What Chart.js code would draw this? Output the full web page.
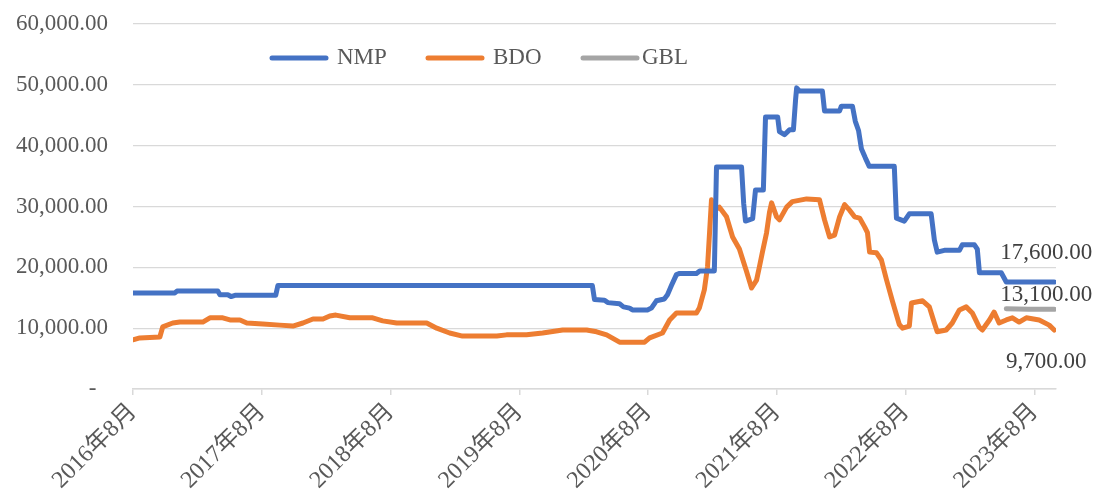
<!DOCTYPE html>
<html>
<head>
<meta charset="utf-8">
<script src="https://cdn.jsdelivr.net/npm/chart.js@4/dist/chart.umd.min.js"></script>
<style>
  html, body { margin: 0; padding: 0; background: #fff; }
  #wrap { width: 1098px; height: 498px; }
</style>
</head>
<body>
<div id="wrap"><canvas id="main-chart" width="1098" height="498"></canvas></div>
<script>
// series names and tick labels
const seriesNames = ['NMP', 'BDO', 'GBL'];
const xTickLabels = ['2016年8月', '2017年8月', '2018年8月', '2019年8月', '2020年8月', '2021年8月', '2022年8月', '2023年8月'];
const yTicks = [0, 10000, 20000, 30000, 40000, 50000, 60000];

// NMP
const nmpDates = ['2016-08-01', '2016-11-28', '2016-12-04', '2017-03-28', '2017-04-04', '2017-04-26', '2017-05-05', '2017-05-16',
  '2017-09-10', '2017-09-16', '2020-02-25', '2020-03-01', '2020-03-29', '2020-04-08', '2020-05-11', '2020-05-22', '2020-06-09',
  '2020-06-17', '2020-07-29', '2020-08-10', '2020-08-24', '2020-09-16', '2020-09-25', '2020-10-06', '2020-10-20', '2020-10-29',
  '2020-12-16', '2020-12-25', '2021-02-06', '2021-02-12', '2021-04-22', '2021-04-28', '2021-05-03', '2021-05-23', '2021-06-01',
  '2021-06-23', '2021-06-29', '2021-08-03', '2021-08-08', '2021-08-22', '2021-09-06', '2021-09-17', '2021-09-23', '2021-09-26',
  '2021-10-04', '2021-12-08', '2021-12-14', '2022-01-26', '2022-02-01', '2022-03-02', '2022-03-10', '2022-03-19', '2022-03-27',
  '2022-04-08', '2022-04-19', '2022-06-29', '2022-07-05', '2022-07-27', '2022-08-11', '2022-10-12', '2022-10-21', '2022-10-29',
  '2022-11-19', '2023-01-01', '2023-01-09', '2023-02-13', '2023-02-21', '2023-02-27', '2023-04-28', '2023-05-12', '2023-09-26'];
const nmpValues = [15800, 15800, 16100, 16100, 15500, 15500, 15200, 15400,
  15400, 17000, 17000, 14700, 14600, 14200, 14000, 13500, 13300,
  13000, 13000, 13300, 14500, 14800, 15500, 17000, 18800, 19000,
  19000, 19400, 19400, 36500, 36500, 30500, 27600, 28000, 32700,
  32700, 44700, 44700, 42300, 41800, 42600, 42600, 47500, 49500,
  49000, 49000, 45700, 45700, 46500, 46500, 44000, 42500, 39500,
  38000, 36600, 36600, 28100, 27600, 28800, 28800, 24500, 22500,
  22800, 22800, 23700, 23700, 23000, 19100, 19100, 17600, 17600];

// BDO
const bdoDates = ['2016-08-01', '2016-08-20', '2016-10-16', '2016-10-24', '2016-11-22', '2016-12-12', '2017-02-16', '2017-03-06',
  '2017-04-12', '2017-05-02', '2017-05-30', '2017-06-19', '2017-08-04', '2017-09-21', '2017-10-28', '2017-11-26', '2017-12-24',
  '2018-01-22', '2018-02-11', '2018-02-28', '2018-04-07', '2018-06-11', '2018-07-09', '2018-08-18', '2018-11-12', '2018-12-10',
  '2019-01-16', '2019-02-22', '2019-05-28', '2019-06-25', '2019-08-21', '2019-10-06', '2019-12-02', '2020-02-09', '2020-03-07',
  '2020-04-05', '2020-05-11', '2020-07-21', '2020-08-05', '2020-09-11', '2020-10-01', '2020-10-20', '2020-12-16', '2020-12-24',
  '2021-01-08', '2021-01-17', '2021-01-28', '2021-02-06', '2021-02-20', '2021-03-10', '2021-03-27', '2021-04-16', '2021-05-06',
  '2021-05-20', '2021-06-04', '2021-06-12', '2021-06-20', '2021-07-02', '2021-07-10', '2021-07-16', '2021-07-30', '2021-08-08',
  '2021-08-28', '2021-09-14', '2021-10-24', '2021-11-30', '2021-12-14', '2021-12-28', '2022-01-12', '2022-01-26', '2022-02-10',
  '2022-02-24', '2022-03-08', '2022-03-22', '2022-04-06', '2022-04-14', '2022-04-20', '2022-05-09', '2022-05-23', '2022-06-07',
  '2022-06-24', '2022-07-13', '2022-07-22', '2022-08-11', '2022-08-17', '2022-09-18', '2022-10-07', '2022-10-21', '2022-10-29',
  '2022-11-24', '2022-12-11', '2023-01-01', '2023-01-20', '2023-02-07', '2023-02-26', '2023-03-05', '2023-03-25', '2023-04-08',
  '2023-04-22', '2023-05-12', '2023-05-29', '2023-06-18', '2023-07-08', '2023-08-14', '2023-09-12', '2023-09-26'];
const bdoValues = [8100, 8400, 8550, 10200, 10850, 11000, 11000, 11700,
  11700, 11350, 11350, 10850, 10700, 10500, 10350, 10850, 11500,
  11500, 12000, 12150, 11700, 11700, 11200, 10850, 10850, 10000,
  9200, 8700, 8700, 8900, 8900, 9200, 9700, 9700, 9400,
  8900, 7700, 7700, 8400, 9200, 11350, 12500, 12500, 13300,
  16300, 20100, 31100, 29400, 29900, 28300, 25000, 23000, 19300,
  16600, 17900, 20100, 22400, 25700, 29000, 30600, 28300, 27800,
  29900, 30800, 31250, 31100, 27800, 25000, 25300, 28300, 30300,
  29400, 28300, 28100, 26650, 25700, 22500, 22400, 21200, 18000,
  14400, 10600, 10000, 10350, 14150, 14500, 13500, 10850, 9400,
  9700, 10850, 13000, 13500, 12500, 10200, 9700, 11350, 12650,
  10850, 11350, 11700, 11000, 11700, 11350, 10500, 9700];

// GBL
const gblDates = ['2023-05-12', '2023-07-15', '2023-09-26'];
const gblValues = [13200, 13100, 13100];

const colors = ['#4472C4', '#ED7D31', '#A5A5A5'];
const labelOffsets = [-29, 32, -14];
const FONT = '"Liberation Serif", "Times New Roman", "Noto Sans CJK SC", serif';

// months since 2016-08
const toMonth = s => {
  const [y, m, d] = s.split('-').map(Number);
  return (y - 2016) * 12 + (m - 8) + (d - 1) / 30;
};
const toPoints = (dates, values) => dates.map((d, i) => ({ x: toMonth(d), y: values[i] }));
const fmt = v => v.toLocaleString('en-US', { minimumFractionDigits: 2, maximumFractionDigits: 2 });

const seriesData = [toPoints(nmpDates, nmpValues), toPoints(bdoDates, bdoValues), toPoints(gblDates, gblValues)];

// legend drawn inside the plot, like the original
const insideLegend = {
  id: 'insideLegend',
  afterDraw(chart) {
    const ctx = chart.ctx;
    const spots = [[272, 337], [428, 493], [583, 642]];
    ctx.save();
    ctx.font = '23px ' + FONT;
    ctx.textBaseline = 'middle';
    ctx.lineCap = 'round';
    ctx.lineWidth = 5;
    chart.data.datasets.forEach((ds, i) => {
      const [lx, tx] = spots[i];
      ctx.strokeStyle = ds.borderColor;
      ctx.beginPath();
      ctx.moveTo(lx, 58);
      ctx.lineTo(lx + 54, 58);
      ctx.stroke();
      ctx.fillStyle = '#595959';
      ctx.fillText(ds.label, tx, 58);
    });
    ctx.restore();
  }
};

// value label at the last point of each line
const endLabels = {
  id: 'endLabels',
  afterDatasetsDraw(chart) {
    const ctx = chart.ctx;
    ctx.save();
    ctx.font = '23px ' + FONT;
    ctx.fillStyle = '#404040';
    ctx.textAlign = 'center';
    ctx.textBaseline = 'middle';
    chart.data.datasets.forEach((ds, i) => {
      const meta = chart.getDatasetMeta(i);
      const pt = meta.data[meta.data.length - 1];
      const val = ds.data[ds.data.length - 1].y;
      ctx.fillText(fmt(val), pt.x - 8, pt.y + labelOffsets[i]);
    });
    ctx.restore();
  }
};

const mainChart = new Chart(document.getElementById('main-chart'), {
  type: 'line',
  data: {
    datasets: seriesNames.map((name, i) => ({
      label: name,
      data: seriesData[i],
      borderColor: colors[i],
      backgroundColor: colors[i],
      borderWidth: 5,
      borderJoinStyle: 'round',
      borderCapStyle: 'round',
      pointRadius: 0,
      tension: 0,
      fill: false
    }))
  },
  options: {
    responsive: false,
    animation: false,
    devicePixelRatio: 1,
    layout: {
      padding: { top: 24, right: 42, left: 0, bottom: 0 }
    },
    plugins: {
      legend: { display: false },
      tooltip: { enabled: false }
    },
    scales: {
      x: {
        type: 'linear',
        min: 0,
        max: 86,
        afterFit: scale => { scale.height = 109; },
        afterBuildTicks: scale => {
          scale.ticks = xTickLabels.map((_, i) => ({ value: i * 12 }));
        },
        border: { display: true, color: '#d9d9d9', width: 1.5 },
        grid: {
          drawOnChartArea: false,
          drawTicks: true,
          tickLength: 6,
          color: '#d9d9d9',
          lineWidth: 1.5
        },
        ticks: {
          autoSkip: false,
          minRotation: 45,
          maxRotation: 45,
          padding: 3,
          color: '#595959',
          font: { family: FONT, size: 24 },
          callback: v => xTickLabels[Math.round(v / 12)]
        }
      },
      y: {
        min: 0,
        max: 60000,
        afterFit: scale => {
          scale.width = 133;
          // keep the tick padding from pushing the plot down
          scale.paddingTop = 0;
          scale.paddingBottom = 0;
        },
        afterBuildTicks: scale => {
          scale.ticks = yTicks.map(v => ({ value: v }));
        },
        border: { display: false },
        grid: {
          color: '#d9d9d9',
          lineWidth: 1.2,
          drawTicks: false
        },
        ticks: {
          padding: 25,
          color: '#595959',
          font: { family: FONT, size: 23 },
          callback: v => (v === 0 ? '-  ' : fmt(v))
        }
      }
    }
  },
  plugins: [endLabels, insideLegend]
});
</script>
</body>
</html>
